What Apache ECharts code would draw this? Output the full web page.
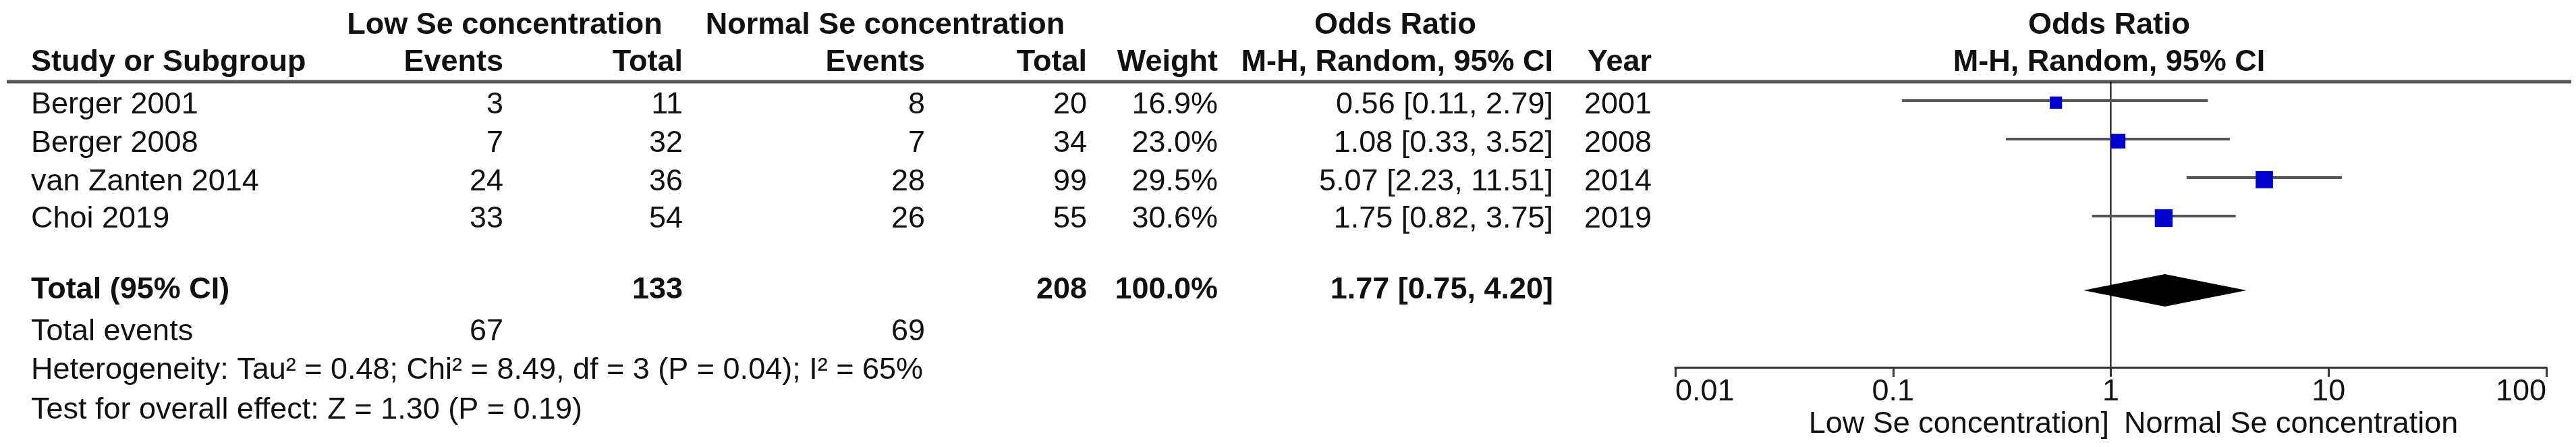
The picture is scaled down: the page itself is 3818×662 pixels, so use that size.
<!DOCTYPE html>
<html><head><meta charset="utf-8">
<script src="https://cdn.jsdelivr.net/npm/echarts@6/dist/echarts.min.js"></script>
<style>html,body{margin:0;padding:0;background:#fff}#c{width:3818px;height:662px}</style>
</head><body><div id="c"></div>
<script>
const studies = ['Berger 2001','Berger 2008','van Zanten 2014','Choi 2019'];
const lowEvents = [3,7,24,33];
const lowTotal = [11,32,36,54];
const normEvents = [8,7,28,26];
const normTotal = [20,34,99,55];
const weights = [16.9,23.0,29.5,30.6];
const orVal = [0.56,1.08,5.07,1.75];
const ciLow = [0.11,0.33,2.23,0.82];
const ciHigh = [2.79,3.52,11.51,3.75];
const years = [2001,2008,2014,2019];
const total = {label:'Total (95% CI)', lowTotal:133, normTotal:208, weight:'100.0%', or:1.77, lo:0.75, hi:4.20};
const totalEvents = [67,69];
const heterogeneity = 'Heterogeneity: Tau² = 0.48; Chi² = 8.49, df = 3 (P = 0.04); I² = 65%';
const overall = 'Test for overall effect: Z = 1.30 (P = 0.19)';
const ticks = [0.01,0.1,1,10,100];

const F = 'Liberation Sans, Arial, sans-serif';
const FS = 45;
const rowY = [156,213,270,325];
const totalY = 430;
function T(text,x,y,align,bold){return {type:'text',x:x,y:y,style:{text:String(text),font:(bold?'bold ':'')+FS+'px '+F,textAlign:align,textVerticalAlign:'middle',fill:'#111'}};}
const g = [];
g.push(T('Low Se concentration',748,38,'center',true));
g.push(T('Normal Se concentration',1312,38,'center',true));
g.push(T('Odds Ratio',2068,38,'center',true));
g.push(T('Odds Ratio',3126,38,'center',true));
g.push(T('Study or Subgroup',46,93,'left',true));
g.push(T('Events',746,93,'right',true));
g.push(T('Total',1012,93,'right',true));
g.push(T('Events',1371,93,'right',true));
g.push(T('Total',1611,93,'right',true));
g.push(T('Weight',1805,93,'right',true));
g.push(T('M-H, Random, 95% CI',2302,93,'right',true));
g.push(T('Year',2448,93,'right',true));
g.push(T('M-H, Random, 95% CI',3126,93,'center',true));
g.push({type:'line',shape:{x1:10,y1:121,x2:3811,y2:121},style:{stroke:'#555',lineWidth:5}});
const f2 = v=>v.toFixed(2);
studies.forEach((s,i)=>{
  const y=rowY[i];
  g.push(T(s,46,y,'left'));
  g.push(T(lowEvents[i],746,y,'right'));
  g.push(T(lowTotal[i],1012,y,'right'));
  g.push(T(normEvents[i],1371,y,'right'));
  g.push(T(normTotal[i],1611,y,'right'));
  g.push(T(weights[i].toFixed(1)+'%',1805,y,'right'));
  g.push(T(f2(orVal[i])+' ['+f2(ciLow[i])+', '+f2(ciHigh[i])+']',2302,y,'right'));
  g.push(T(years[i],2448,y,'right'));
});
g.push(T(total.label,46,totalY,'left',true));
g.push(T(total.lowTotal,1012,totalY,'right',true));
g.push(T(total.normTotal,1611,totalY,'right',true));
g.push(T(total.weight,1805,totalY,'right',true));
g.push(T(f2(total.or)+' ['+f2(total.lo)+', '+f2(total.hi)+']',2302,totalY,'right',true));
g.push(T('Total events',46,492,'left'));
g.push(T(totalEvents[0],746,492,'right'));
g.push(T(totalEvents[1],1371,492,'right'));
g.push(T(heterogeneity,46,549,'left'));
g.push(T(overall,46,608,'left'));
g.push(T('Low Se concentration]',3126,629,'right'));
g.push(T('Normal Se concentration',3148,629,'left'));

const ROW=57, Y0=152;
const yMin=-(Y0-121)/ROW, yMax=(544-Y0)/ROW, totalRow=(totalY-Y0)/ROW;
const studyData = studies.map((s,i)=>[orVal[i],i,ciLow[i],ciHigh[i],weights[i]]);

const option = {
  animation:false,
  graphic:g,
  grid:{left:2483,right:44,top:121,height:423},
  xAxis:{type:'log',logBase:10,min:0.01,max:100,position:'bottom',
    axisLine:{onZero:false,lineStyle:{color:'#333',width:3}},
    axisTick:{length:14,lineStyle:{color:'#333',width:3}},
    splitLine:{show:false},
    axisLabel:{fontFamily:F,fontSize:FS,color:'#111',margin:14,alignMinLabel:'left',alignMaxLabel:'right',
      formatter:v=>{const t=ticks.find(k=>Math.abs(Math.log10(k)-Math.log10(v))<1e-6);return t===undefined?'':String(t);}}},
  yAxis:{type:'value',min:yMin,max:yMax,inverse:true,show:false},
  series:[
    {type:'custom',data:[[1]],renderItem:(p,api)=>{
      const a=api.coord([1,yMin]),b=api.coord([1,yMax]);
      return {type:'line',shape:{x1:a[0],y1:a[1],x2:b[0],y2:b[1]},style:{stroke:'#000',lineWidth:2}};}},
    {type:'custom',data:studyData,renderItem:(p,api)=>{
      const y=api.value(1);
      const l=api.coord([api.value(2),y]),h=api.coord([api.value(3),y]),c=api.coord([api.value(0),y]);
      const s=8+0.6*api.value(4);
      return {type:'group',children:[
        {type:'line',shape:{x1:l[0],y1:l[1]-3,x2:h[0],y2:h[1]-3},style:{stroke:'#555',lineWidth:4}},
        {type:'rect',shape:{x:c[0]-s/2,y:c[1]-s/2,width:s,height:s},style:{fill:'#0000cc'}}]};}},
    {type:'custom',data:[[total.or,totalRow,total.lo,total.hi]],renderItem:(p,api)=>{
      const y=api.value(1);
      const l=api.coord([api.value(2),y]),h=api.coord([api.value(3),y]),c=api.coord([api.value(0),y]);
      return {type:'polygon',shape:{points:[[l[0],l[1]],[c[0],c[1]-24],[h[0],h[1]],[c[0],c[1]+24]]},style:{fill:'#000'}};}}
  ]
};
echarts.init(document.getElementById('c')).setOption(option);
</script></body></html>
